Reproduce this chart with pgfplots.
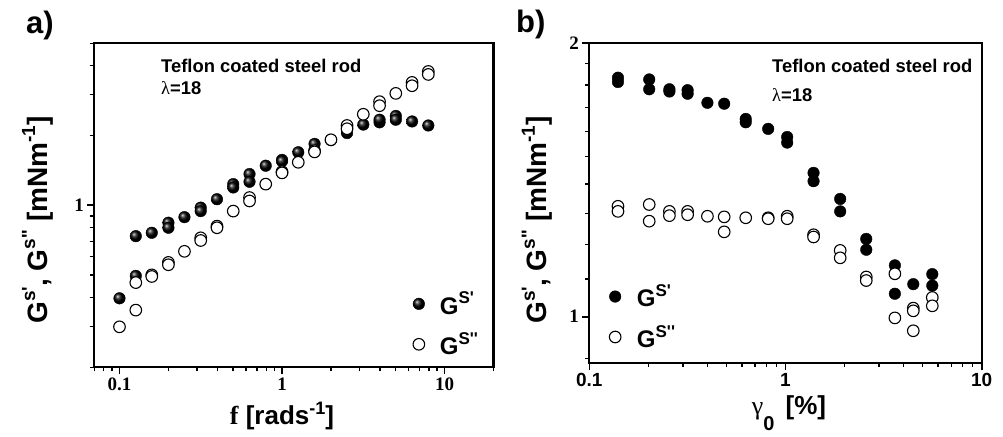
\documentclass[border=0pt]{standalone}
\usepackage{pgfplots}
\pgfplotsset{compat=1.18}
\usepackage{pgfplotstable}
\usepackage{fontspec}
\setmainfont{Liberation Sans}[Ligatures=ResetAll]
\newfontfamily\af{Liberation Sans}[Ligatures=ResetAll]
\newfontfamily\tf{Liberation Serif}[Ligatures=ResetAll]
\newcommand{\fs}[1]{\fontsize{#1}{#1}\selectfont}
\newcommand{\sups}[2][17]{\raisebox{0.42em}{\fs{#1}#2}}
\usetikzlibrary{plotmarks}

\pgfplotstableread{
f G
0.1 0.397
0.126 0.736
0.126 0.496
0.158 0.761
0.2 0.841
0.2 0.80
0.251 0.889
0.316 0.977
0.316 0.944
0.398 1.062
0.501 1.234
0.501 1.194
0.631 1.364
0.631 1.263
0.794 1.482
1.0 1.57
1.0 1.55
1.259 1.694
1.585 1.84
2.0 1.91
2.512 2.05
3.162 2.23
3.981 2.28
3.981 2.34
5.012 2.43
5.012 2.34
6.31 2.30
7.943 2.21
}\aFilled

\pgfplotstableread{
f G
0.1 0.299
0.126 0.464
0.126 0.353
0.158 0.501
0.158 0.493
0.2 0.567
0.2 0.554
0.251 0.633
0.316 0.724
0.316 0.705
0.398 0.813
0.398 0.80
0.501 0.944
0.631 1.080
0.631 1.044
0.794 1.234
1.0 1.396
1.0 1.38
1.259 1.533
1.585 1.72
1.585 1.70
2.0 1.918
2.512 2.21
2.512 2.14
3.162 2.47
3.981 2.80
3.981 2.69
5.012 3.04
6.31 3.39
6.31 3.28
7.943 3.78
7.943 3.67
}\aOpen

\pgfplotstableread{
g G
0.14 1.833
0.14 1.813
0.202 1.825
0.202 1.78
0.256 1.78
0.256 1.77
0.317 1.776
0.317 1.76
0.40 1.72
0.487 1.716
0.627 1.651
0.627 1.637
0.816 1.610
1.02 1.577
1.02 1.555
1.39 1.440
1.39 1.410
1.90 1.348
1.90 1.306
2.58 1.218
2.58 1.185
3.61 1.139
3.61 1.060
4.48 1.086
5.6 1.114
5.6 1.082
}\bFilled

\pgfplotstableread{
g G
0.14 1.323
0.14 1.306
0.202 1.329
0.202 1.274
0.256 1.306
0.256 1.292
0.317 1.306
0.317 1.295
0.40 1.290
0.487 1.288
0.487 1.240
0.627 1.285
0.816 1.285
0.816 1.282
1.02 1.290
1.02 1.282
1.39 1.231
1.39 1.224
1.90 1.183
1.90 1.161
2.58 1.106
2.58 1.096
3.61 1.115
3.61 0.997
4.48 1.022
4.48 1.015
4.48 0.965
5.6 1.050
5.6 1.028
}\bOpen

\begin{document}
\begin{tikzpicture}
% ---------- panel a ----------
\begin{axis}[
  xmode=log, ymode=log, scale only axis,
  axis line style={line width=2.2pt},
  tick align=outside, xtick pos=bottom, ytick pos=left,
  major tick length=7pt, minor tick length=4pt,
  major tick style={line width=1.6pt, black},
  minor tick style={line width=1.4pt, black},
  clip=false,
  legend cell align=left,
  at={(94.3pt,68.7pt)}, anchor=south west,
  width=399.2pt, height=324pt,
  xmin=0.07, xmax=20, ymin=0.2, ymax=5,
  xtick={0.1,1,10}, xticklabels={0.1,1,10},
  minor xtick={0.07,0.08,0.09,0.2,0.3,0.4,0.5,0.6,0.7,0.8,0.9,2,3,4,5,6,7,8,9,20},
  ytick={1}, yticklabels={1},
  minor ytick={0.2,0.3,0.4,0.5,0.6,0.7,0.8,0.9,2,3,4,5},
  xticklabel style={font=\tf\bfseries\fs{19}},
  yticklabel style={font=\tf\bfseries\fs{19}},
  legend style={draw=none, fill=none, at={(0.79,0.245)}, anchor=north west,
    font=\af\bfseries\fs{24}, row sep=13pt},
]
\addplot[only marks, mark=ball, mark size=5.8pt, mark options={ball color=black}] table[x=f,y=G] {\aFilled};
\addlegendentry{\hspace{13pt}G\sups{S'}}
\addplot[only marks, mark=*, mark size=5.8pt, mark options={fill=white, draw=black, line width=1.1pt}] table[x=f,y=G] {\aOpen};
\addlegendentry{\hspace{13pt}G\sups{S''}}
\end{axis}
% ---------- panel b ----------
\begin{axis}[
  xmode=log, ymode=log, scale only axis,
  axis line style={line width=2.2pt},
  tick align=outside, xtick pos=bottom, ytick pos=left,
  major tick length=7pt, minor tick length=4pt,
  major tick style={line width=1.6pt, black},
  minor tick style={line width=1.4pt, black},
  clip=false,
  legend cell align=left,
  at={(589.3pt,73.3pt)}, anchor=south west,
  width=392.4pt, height=319.4pt,
  xmin=0.1, xmax=10, ymin=0.89, ymax=2,
  xtick={0.1,1,10}, xticklabels={0.1,1,10},
  minor xtick={0.2,0.3,0.4,0.5,0.6,0.7,0.8,0.9,2,3,4,5,6,7,8,9},
  ytick={1,2}, yticklabels={1,2},
  minor ytick={0.9,1.1,1.2,1.3,1.4,1.5,1.6,1.7,1.8,1.9},
  xticklabel style={font=\af\bfseries\fs{19}},
  yticklabel style={font=\tf\bfseries\fs{19}},
  legend style={draw=none, fill=none, at={(0.043,0.257)}, anchor=north west,
    font=\af\bfseries\fs{24}, row sep=13pt},
]
\addplot[only marks, mark=*, mark size=5.8pt, mark options={fill=black, draw=black}] table[x=g,y=G] {\bFilled};
\addlegendentry{\hspace{14pt}G\sups{S'}}
\addplot[only marks, mark=*, mark size=5.8pt, mark options={fill=white, draw=black, line width=1.1pt}] table[x=g,y=G] {\bOpen};
\addlegendentry{\hspace{14pt}G\sups{S''}}
\end{axis}
% ---------- texts ----------
\node[anchor=base west, inner sep=0pt, font=\af\bfseries\fs{31}] at (26pt,402.5pt) {a)};
\node[anchor=base west, inner sep=0pt, font=\af\bfseries\fs{31}] at (516pt,403pt) {b)};
\node[anchor=base west, inner sep=0pt, font=\af\bfseries\fs{18.4}] at (161pt,363.3pt) {Teflon coated steel rod};
\node[anchor=base west, inner sep=0pt, font=\af\bfseries\fs{18.4}] at (161pt,341pt) {{\tf\mdseries λ}=18};
\node[anchor=base west, inner sep=0pt, font=\af\bfseries\fs{18.4}] at (772pt,363pt) {Teflon coated steel rod};
\node[anchor=base west, inner sep=0pt, font=\af\bfseries\fs{18.4}] at (772pt,334pt) {{\tf\mdseries λ}=18};
\node[rotate=90, anchor=base, inner sep=0pt, font=\af\bfseries\fs{28}] at (47pt,216pt)
  {G\sups[19]{s'}, G\sups[19]{s''} [mNm\sups[19]{-1}]};
\node[rotate=90, anchor=base, inner sep=0pt, font=\af\bfseries\fs{28}] at (546.7pt,216pt)
  {G\sups[19]{s'}, G\sups[19]{s''} [mNm\sups[19]{-1}]};
\node[anchor=base, inner sep=0pt, font=\af\bfseries\fs{26}] at (282pt,11pt)
  {{\tf f} [rads\sups[18]{-1}]};
\node[anchor=base, inner sep=0pt, font=\af\bfseries\fs{26}] at (789pt,21pt)
  {{\tf\mdseries γ}\raisebox{-0.58em}{\fs{20}0}\hspace{4pt} [\%]};
\pgfresetboundingbox
\path[use as bounding box] (0,0) rectangle (1003pt,436pt);
\end{tikzpicture}
\end{document}
